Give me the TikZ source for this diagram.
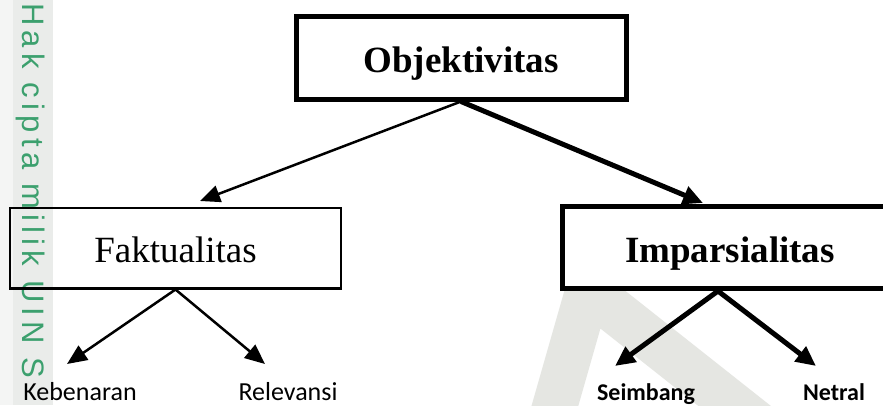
\documentclass[tikz,border=0pt]{standalone}
\usepackage{fontspec}
\setmainfont{Liberation Serif}
\newfontfamily\calib{Carlito}
\newfontfamily\wmfont[LetterSpace=17]{Liberation Sans}
\usetikzlibrary{arrows.meta}
\definecolor{wmgreen}{RGB}{60,160,110}
\definecolor{wmgray}{RGB}{234,236,234}
\definecolor{wmlight}{RGB}{244,245,244}
\definecolor{logogray}{RGB}{229,230,226}
\begin{document}
\begin{tikzpicture}[x=1pt,y=-1pt,
  box/.style={draw,inner sep=0pt,text height=29pt,text depth=0pt},
  thinbox/.style={box,line width=2.5pt},
  thickbox/.style={box,fill=white,line width=5pt},
  thinarrow/.style={line width=2.5pt,-{Triangle[length=20pt,width=17pt]}},
  thickarrow/.style={line width=5pt,-{Triangle[length=20pt,width=18pt]}},
  leaf/.style={anchor=base,inner sep=0pt,font=\calib\fontsize{26pt}{30pt}\selectfont},
  boldleaf/.style={leaf,font=\calib\bfseries\fontsize{24pt}{30pt}\selectfont},
  bigtext/.style={font=\fontsize{37pt}{40pt}\selectfont},
  bigbold/.style={font=\bfseries\fontsize{37pt}{40pt}\selectfont},
]
\useasboundingbox (0,0) rectangle (883,405);
\clip (0,0) rectangle (883,405);
\fill[white] (0,0) rectangle (883,405);
% watermark strip and logo
\fill[wmlight] (0,0) rectangle (13,405);
\fill[wmgray] (13,0) rectangle (53,405);
\draw[logogray, line width=45pt, line join=miter] (548,430) -- (588,290) -- (765,430);
\node[rotate=-90, anchor=base west, inner sep=0pt, text=wmgreen,
      font=\wmfont\fontsize{31pt}{33pt}\selectfont] (wm) at (23,3) {Hak cipta milik UIN S};
% boxes
\node[thickbox, bigbold, minimum width=330pt, minimum height=83pt] (obj) at (461,57.5) {Objektivitas};
\node[thinbox, bigtext, minimum width=331pt, minimum height=80.5pt] (fak) at (175.5,248) {Faktualitas};
\node[thickbox, bigbold, minimum width=335pt, minimum height=82pt] (imp) at (730,247.5) {Imparsialitas};
% leaves
\node[leaf] (keb) at (80,400) {Kebenaran};
\node[leaf] (rel) at (288,400) {Relevansi};
\node[boldleaf] (sei) at (646,400) {Seimbang};
\node[boldleaf] (net) at (834,400) {Netral};
% arrow ends
\coordinate (t1) at (200,201);
\coordinate (t2) at (703,203);
\coordinate (t3) at (67,364);
\coordinate (t4) at (265,364);
\coordinate (t5) at (615,366);
\coordinate (t6) at (816,366);
\coordinate (impout) at ([xshift=-12pt]imp.south);
% connectors
\draw[thinarrow] (obj.south) -- (t1);
\draw[thickarrow] (obj.south) -- (t2);
\draw[thinarrow] (fak.south) -- (t3);
\draw[thinarrow] (fak.south) -- (t4);
\draw[thickarrow] (impout) -- (t5);
\draw[thickarrow] (impout) -- (t6);
\end{tikzpicture}
\end{document}
